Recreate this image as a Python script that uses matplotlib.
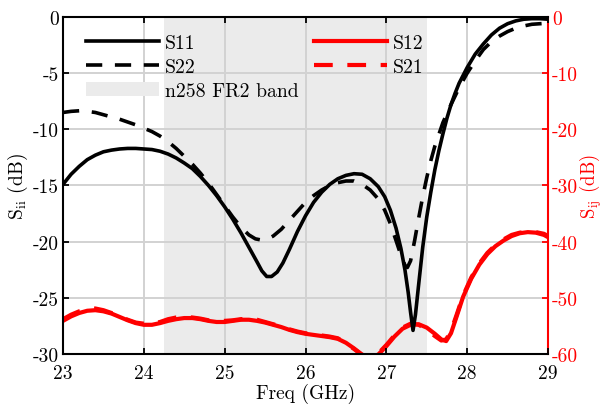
import matplotlib
matplotlib.use("Agg")
import matplotlib.pyplot as plt
from matplotlib.patches import Patch

plt.rcParams["font.family"] = "serif"
plt.rcParams["font.serif"] = ["cmr10"]
plt.rcParams["mathtext.fontset"] = "cm"
plt.rcParams["axes.unicode_minus"] = False
plt.rcParams["axes.formatter.use_mathtext"] = False

# reflection coefficients (left axis, dB)
s11_freq = [23.0, 23.1, 23.2, 23.3, 23.4, 23.5, 23.6, 23.7, 23.8, 23.9, 24.0, 24.1,
            24.2, 24.3, 24.4, 24.5, 24.6, 24.7, 24.8, 24.9, 25.0, 25.1, 25.2, 25.3,
            25.4, 25.46, 25.52, 25.58, 25.65, 25.72, 25.8, 25.9, 26.0, 26.1, 26.2,
            26.3, 26.4, 26.5, 26.6, 26.7, 26.8, 26.9, 26.98, 27.05, 27.12, 27.18,
            27.23, 27.27, 27.3, 27.33, 27.36, 27.4, 27.45, 27.5, 27.55, 27.6, 27.65,
            27.7, 27.75, 27.8, 27.85, 27.9, 28.0, 28.1, 28.2, 28.3, 28.4, 28.5, 28.6,
            28.7, 28.8, 28.9, 29.0]
s11_db = [-14.9, -14.0, -13.3, -12.7, -12.3, -12.0, -11.85, -11.75, -11.7, -11.7, -11.75, -11.8,
          -11.95, -12.2, -12.55, -13.0, -13.5, -14.2, -15.0, -15.9, -16.9, -18.0, -19.2, -20.5,
          -21.8, -22.6, -23.1, -23.1, -22.7, -21.9, -20.7, -19.1, -17.7, -16.5, -15.6,
          -14.9, -14.4, -14.1, -13.95, -14.0, -14.4, -15.1, -16.0, -17.2, -18.8, -20.6,
          -22.5, -24.5, -26.3, -27.9, -26.5, -23.8, -20.5, -17.8, -15.6, -13.6, -11.9,
          -10.4, -9.0, -7.8, -6.8, -5.9, -4.5, -3.3, -2.4, -1.6, -1.0, -0.6, -0.35,
          -0.2, -0.15, -0.15, -0.2]

s22_freq = [23.0, 23.1, 23.2, 23.3, 23.4, 23.5, 23.6, 23.7, 23.8, 23.9, 24.0, 24.1,
            24.2, 24.3, 24.4, 24.5, 24.6, 24.7, 24.8, 24.9, 25.0, 25.1, 25.2, 25.3,
            25.38, 25.45, 25.52, 25.6, 25.7, 25.8, 25.9, 26.0, 26.1, 26.2, 26.3, 26.4,
            26.5, 26.6, 26.7, 26.8, 26.9, 26.98, 27.05, 27.12, 27.18, 27.23, 27.26,
            27.3, 27.35, 27.4, 27.45, 27.5, 27.55, 27.6, 27.7, 27.8, 27.9, 28.0, 28.1,
            28.2, 28.3, 28.4, 28.5, 28.6, 28.7, 28.8, 28.9, 29.0]
s22_db = [-8.5, -8.4, -8.35, -8.4, -8.5, -8.7, -8.9, -9.1, -9.35, -9.6, -9.9, -10.2,
          -10.6, -11.1, -11.7, -12.4, -13.1, -13.9, -14.8, -15.8, -16.8, -17.8, -18.7, -19.4,
          -19.75, -19.85, -19.8, -19.5, -18.9, -18.1, -17.3, -16.5, -15.9, -15.4, -15.0, -14.75,
          -14.6, -14.6, -14.9, -15.4, -16.2, -17.2, -18.4, -19.9, -21.2, -22.1, -22.3,
          -21.7, -19.9, -17.9, -16.0, -14.3, -12.8, -11.5, -9.4, -7.8, -6.3, -5.0, -3.9,
          -2.9, -2.2, -1.7, -1.3, -1.0, -0.8, -0.65, -0.6, -0.55]

# transmission coefficients (right axis, dB)
s12_freq = [23.0, 23.1, 23.2, 23.3, 23.4, 23.5, 23.6, 23.7, 23.8, 23.9, 24.0, 24.1,
            24.2, 24.3, 24.4, 24.5, 24.6, 24.7, 24.8, 24.9, 25.0, 25.1, 25.2, 25.3,
            25.4, 25.5, 25.6, 25.7, 25.8, 25.9, 26.0, 26.1, 26.2, 26.3, 26.4, 26.5,
            26.6, 26.7, 26.8, 26.9, 27.0, 27.1, 27.2, 27.3, 27.4, 27.5, 27.6, 27.68,
            27.74, 27.8, 27.87, 27.95, 28.05, 28.15, 28.25, 28.35, 28.45, 28.55, 28.65,
            28.75, 28.85, 28.95, 29.0]
s12_db = [-54.1, -53.3, -52.7, -52.3, -52.2, -52.4, -52.8, -53.4, -54.0, -54.5, -54.8, -54.8,
          -54.5, -54.1, -53.8, -53.6, -53.6, -53.8, -54.1, -54.3, -54.3, -54.1, -53.9, -53.9,
          -54.1, -54.4, -54.8, -55.2, -55.7, -56.1, -56.4, -56.6, -56.8, -57.0, -57.3, -58.0,
          -59.0, -60.1, -60.6, -60.1, -58.6, -56.9, -55.5, -54.8, -54.7, -55.3, -56.4, -57.4,
          -57.7, -56.3, -53.3, -49.8, -46.6, -44.1, -42.2, -40.8, -39.8, -39.0, -38.5,
          -38.3, -38.4, -38.8, -39.2]
s21_db = [-53.8, -53.0, -52.4, -52.0, -51.9, -52.2, -52.7, -53.3, -53.9, -54.4, -54.6, -54.6,
          -54.3, -53.8, -53.5, -53.4, -53.5, -53.7, -54.0, -54.1, -54.1, -54.0, -53.8, -53.7,
          -53.9, -54.3, -54.7, -55.1, -55.6, -56.0, -56.3, -56.5, -56.7, -56.9, -57.2, -58.1,
          -59.1, -60.2, -60.5, -59.9, -58.4, -56.7, -55.3, -54.6, -54.8, -55.6, -56.8, -57.6,
          -57.4, -55.9, -53.0, -49.6, -46.4, -43.9, -42.0, -40.6, -39.6, -38.8, -38.4,
          -38.2, -38.3, -38.6, -39.0]

band_lo, band_hi = 24.25, 27.5
band_color = "#ebebeb"
fs = 14

fig = plt.figure(figsize=(6.03, 4.06), dpi=100)
ax = fig.add_axes([0.1045, 0.1256, 0.8043, 0.8301])
ax2 = ax.twinx()
ax.set_zorder(ax2.get_zorder() + 1)
ax.patch.set_visible(False)
ax2.xaxis.set_visible(True)

# background: band + grid on the lower (red) axes
ax2.axvspan(band_lo, band_hi, color=band_color, lw=0, zorder=0.2)
ax2.set_axisbelow(True)
ax2.grid(True, color="#d2d2d2", lw=1.4)

dash = (0, (4.5, 3.5))
ax2.plot(s12_freq, s12_db, color="red", lw=3.0)
ax2.plot(s12_freq, s21_db, color="red", lw=3.0, ls=dash)
ax.plot(s11_freq, s11_db, color="black", lw=2.6)
ax.plot(s22_freq, s22_db, color="black", lw=2.6, ls=dash)

ax.set_xlim(23, 29)
ax.set_ylim(-30, 0)
ax2.set_ylim(-60, 0)
ax.set_xticks(range(23, 30))
ax.set_yticks(range(-30, 1, 5))
ax2.set_yticks(range(-60, 1, 10))

for a in (ax, ax2):
    for sp in a.spines.values():
        sp.set_linewidth(1.5)
ax.spines["right"].set_visible(False)
for side in ("top", "left", "bottom"):
    ax2.spines[side].set_visible(False)
ax2.spines["right"].set_color("red")

ax.tick_params(axis="both", direction="in", length=4, width=1.3, labelsize=fs, pad=3,
               top=True, right=False)
ax.tick_params(axis="x", pad=7)
ax2.tick_params(axis="y", direction="in", length=4, width=1.3, labelsize=fs, pad=3,
                colors="red")
ax2.tick_params(axis="x", bottom=False, top=False, labelbottom=False, labeltop=False)

ax.set_xlabel("Freq (GHz)", fontsize=fs, labelpad=1)
ax.set_ylabel(r"S$_\mathrm{ii}$ (dB)", fontsize=fs, labelpad=2)
ax2.set_ylabel(r"S$_\mathrm{ij}$ (dB)", fontsize=13.5, color="red", labelpad=-0.5)

handles = [
    plt.Line2D([], [], color="black", lw=2.6),
    plt.Line2D([], [], color="black", lw=2.6, ls=dash),
    Patch(facecolor=band_color, edgecolor="none"),
    plt.Line2D([], [], color="red", lw=3.0),
    plt.Line2D([], [], color="red", lw=3.0, ls=dash),
]
labels = ["S11", "S22", "n258 FR2 band", "S12", "S21"]
ax.legend(handles, labels, ncol=2, loc="upper left", bbox_to_anchor=(0.015, 0.995),
          frameon=False, fontsize=14.2, handlelength=3.7, handletextpad=0.3,
          columnspacing=0.8, labelspacing=0.3, borderaxespad=0.4)

fig.savefig("out.png", dpi=100)
